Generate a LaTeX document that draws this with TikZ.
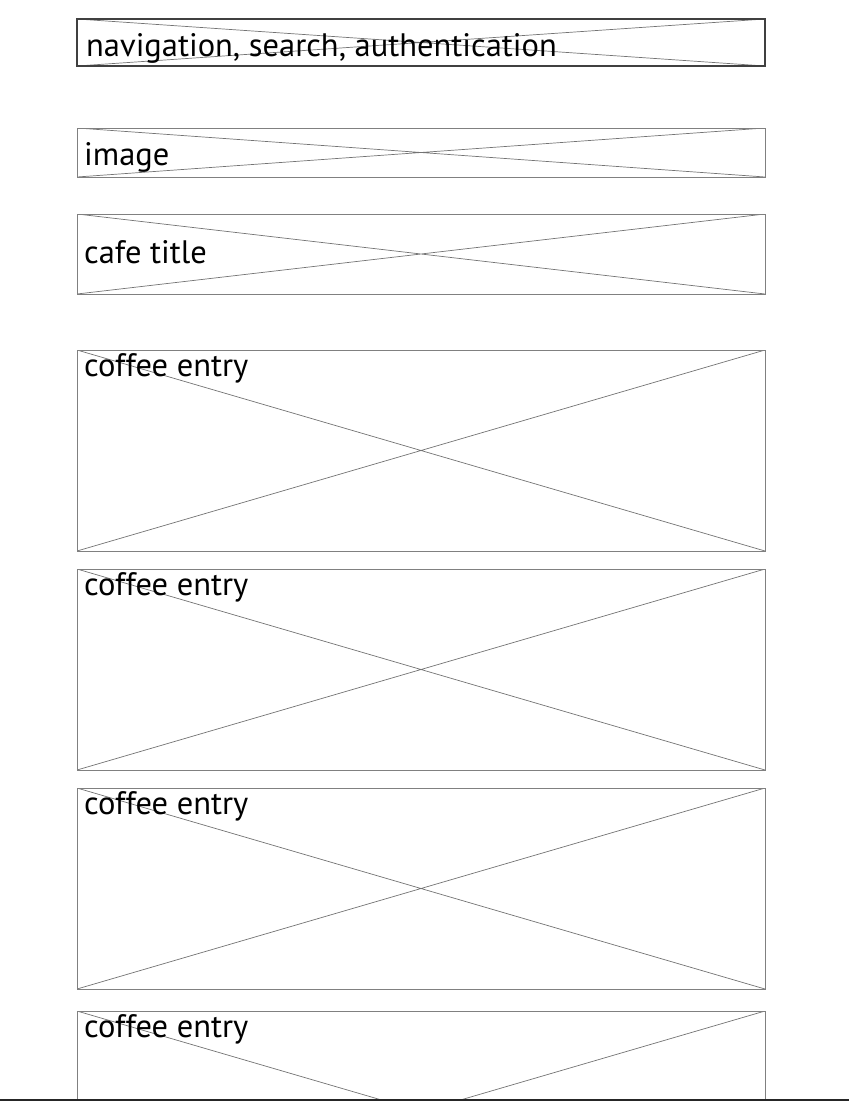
\documentclass[tikz,border=0pt]{standalone}
\usepackage{fontspec}
\setmainfont{PT Sans}
\usetikzlibrary{positioning}

\begin{document}
\begin{tikzpicture}[x=1pt, y=-1pt, font=\fontsize{32.5}{38}\selectfont, node distance=18pt,
 frame/.style={draw=black!50, line width=0.9pt, minimum width=688pt, inner sep=0pt, outer sep=0pt,
   path picture={\draw[black!55, line width=0.7pt]
     (path picture bounding box.north west) -- (path picture bounding box.south east)
     (path picture bounding box.south west) -- (path picture bounding box.north east);}},
 caption/.style={anchor=base west, inner sep=0pt}]
\clip (0,0) rectangle (849,1101);
\node[frame, draw=black!75, line width=1.8pt, minimum height=47pt, anchor=north west] (nav) at (77,19) {};
\node[frame, minimum height=49pt, below=62pt of nav] (image) {};
\node[frame, minimum height=80pt, below=37pt of image] (title) {};
\node[frame, minimum height=201pt, below=56pt of title] (entryA) {};
\node[frame, minimum height=201pt, below=of entryA] (entryB) {};
\node[frame, minimum height=201pt, below=of entryB] (entryC) {};
\node[frame, minimum height=201pt, below=22pt of entryC] (entryD) {};
% labels
\node[caption] (navtxt) at ([xshift=9pt, yshift=-13.5pt]nav.west) {navigation, search, authentication};
\node[caption] (imagetxt) at ([xshift=7pt, yshift=-12.5pt]image.west) {image};
\node[caption] (titletxt) at ([xshift=7pt, yshift=-9.3pt]title.west) {cafe title};
\node[caption] (entryAtxt) at ([xshift=7pt, yshift=-26pt]entryA.north west) {coffee entry};
\node[caption] (entryBtxt) at ([xshift=7pt, yshift=-26pt]entryB.north west) {coffee entry};
\node[caption] (entryCtxt) at ([xshift=7pt, yshift=-26pt]entryC.north west) {coffee entry};
\node[caption] (entryDtxt) at ([xshift=7pt, yshift=-26pt]entryD.north west) {coffee entry};
% page edge
\coordinate (edgeL) at (0,1100);
\coordinate (edgeR) at (849,1100);
\draw[black!85, line width=2pt] (edgeL) -- (edgeR);
\end{tikzpicture}
\end{document}
